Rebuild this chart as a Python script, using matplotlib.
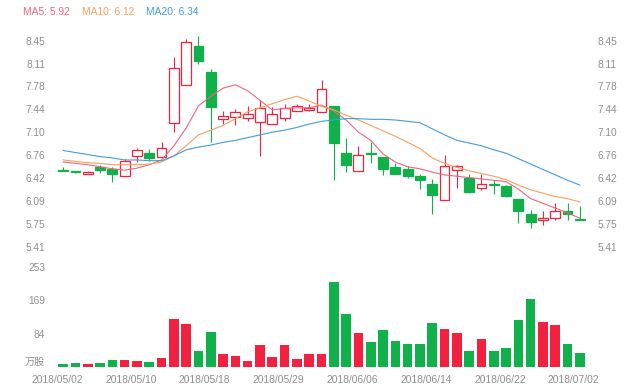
import numpy as np
import matplotlib
matplotlib.use("Agg")
import matplotlib.pyplot as plt
from matplotlib.patches import Rectangle

plt.rcParams['font.family'] = ['Liberation Sans', 'Noto Sans CJK SC', 'DejaVu Sans']

# daily candles, 2018/05/02 .. 2018/07/02
opens = [6.54, 6.52, 6.49, 6.58, 6.56, 6.46, 6.75, 6.80, 6.74, 7.24, 7.80, 8.37, 7.99, 7.29,
         7.32, 7.31, 7.25, 7.22, 7.31, 7.42, 7.43, 7.40, 7.48, 6.80, 6.52, 6.79, 6.73, 6.58,
         6.56, 6.45, 6.34, 6.10, 6.54, 6.42, 6.27, 6.33, 6.31, 6.12, 5.89, 5.80, 5.84, 5.94, 5.82]
highs = [6.59, 6.53, 6.52, 6.62, 6.58, 6.70, 6.87, 6.85, 6.96, 8.21, 8.47, 8.52, 8.03, 7.42,
         7.44, 7.48, 7.58, 7.47, 7.52, 7.52, 7.51, 7.87, 7.48, 7.02, 6.89, 6.96, 6.74, 6.64,
         6.60, 6.48, 6.41, 6.76, 6.62, 6.49, 6.48, 6.39, 6.32, 6.12, 5.95, 5.94, 6.06, 6.05, 6.01]
lows = [6.53, 6.50, 6.48, 6.50, 6.37, 6.46, 6.66, 6.67, 6.74, 7.11, 7.79, 8.10, 6.96, 7.22,
        7.21, 7.27, 6.75, 7.22, 7.27, 7.42, 7.42, 7.40, 6.39, 6.51, 6.52, 6.64, 6.47, 6.48,
        6.42, 6.26, 5.89, 6.10, 6.27, 6.20, 6.24, 6.19, 6.15, 5.76, 5.68, 5.73, 5.80, 5.80, 5.81]
closes = [6.53, 6.51, 6.51, 6.54, 6.49, 6.68, 6.83, 6.72, 6.87, 8.04, 8.43, 8.15, 7.47, 7.34,
          7.40, 7.37, 7.45, 7.37, 7.46, 7.48, 7.46, 7.73, 6.94, 6.61, 6.76, 6.78, 6.56, 6.49,
          6.45, 6.39, 6.17, 6.60, 6.60, 6.22, 6.34, 6.32, 6.16, 5.94, 5.78, 5.84, 5.93, 5.90, 5.81]
volumes = [8, 10, 8, 11, 18, 18, 15, 12, 22, 121, 109, 41, 88, 34, 29, 14, 55, 26, 56, 20,
           33, 33, 214, 134, 85, 62, 94, 66, 58, 59, 111, 96, 87, 40, 71, 40, 49, 118, 172,
           115, 107, 57, 35]

ma5 = [6.66, 6.64, 6.62, 6.59, 6.56, 6.54, 6.57, 6.62, 6.69, 6.90, 7.16, 7.49, 7.63, 7.75,
       7.80, 7.71, 7.57, 7.43, 7.45, 7.46, 7.46, 7.50, 7.41, 7.28, 7.10, 6.98, 6.78, 6.66,
       6.59, 6.56, 6.51, 6.47, 6.45, 6.43, 6.41, 6.39, 6.37, 6.26, 6.12, 6.05, 5.98, 5.91, 5.83]
ma10 = [6.69, 6.67, 6.65, 6.64, 6.62, 6.62, 6.62, 6.63, 6.66, 6.75, 6.90, 7.06, 7.13, 7.20,
        7.30, 7.40, 7.46, 7.52, 7.58, 7.63, 7.56, 7.48, 7.43, 7.35, 7.28, 7.20, 7.12, 7.04,
        6.95, 6.86, 6.72, 6.64, 6.58, 6.53, 6.49, 6.45, 6.40, 6.32, 6.25, 6.20, 6.15, 6.12, 6.07]
ma20 = [6.83, 6.80, 6.77, 6.74, 6.72, 6.69, 6.69, 6.68, 6.68, 6.75, 6.84, 6.88, 6.91, 6.95,
        6.98, 7.02, 7.06, 7.10, 7.13, 7.17, 7.22, 7.26, 7.28, 7.30, 7.30, 7.29, 7.29, 7.28,
        7.26, 7.24, 7.15, 7.06, 6.98, 6.94, 6.90, 6.84, 6.79, 6.71, 6.63, 6.55, 6.47, 6.39, 6.32]

date_labels = ['2018/05/02', '2018/05/10', '2018/05/18', '2018/05/29',
               '2018/06/06', '2018/06/14', '2018/06/22', '2018/07/02']
date_idx = [0, 6, 12, 18, 24, 30, 36, 42]
price_ticks = ['5.41', '5.75', '6.09', '6.42', '6.76', '7.10', '7.44', '7.78', '8.11', '8.45']
vol_ticks = [0, 84, 169, 253]
vol_labels = ['万股', '84', '169', '253']

RED = '#f2213f'
GREEN = '#10b14b'
C_MA5 = '#ee6580'
C_MA10 = '#f4a05c'
C_MA20 = '#3e9edb'
GREY = '#8e8e8e'

W, H = 640, 386
fig = plt.figure(figsize=(6.4, 3.86), dpi=100)

def box(x0, x1, ytop, ybot):
    return [x0 / W, 1 - ybot / H, (x1 - x0) / W, (ybot - ytop) / H]

n = len(closes)
x = np.arange(n)

ax = fig.add_axes(box(57, 586, 30, 252))
ax.set_xlim(-0.5, n - 0.5)
ax.set_ylim(5.332, 8.608)

bw = 0.8
for i in range(n):
    o, h, l, c = opens[i], highs[i], lows[i], closes[i]
    up = c >= o
    col = RED if up else GREEN
    ax.plot([i, i], [l, h], color=col, lw=0.8, zorder=2, solid_capstyle='butt')
    bot = min(o, c)
    ht = max(abs(c - o), 0.004)
    ax.add_patch(Rectangle((i - bw / 2, bot), bw, ht, facecolor='white' if up else col,
                           edgecolor=col, lw=0.9, zorder=3))

ax.plot(x, ma5, color=C_MA5, lw=0.8, zorder=4)
ax.plot(x, ma10, color=C_MA10, lw=0.8, zorder=4)
ax.plot(x, ma20, color=C_MA20, lw=0.8, zorder=4)

pt = np.linspace(5.41, 8.45, len(price_ticks))
ax.set_yticks(pt)
ax.set_yticklabels(price_ticks)
ax.tick_params(axis='y', which='both', left=False, right=False, labelleft=True,
               labelright=True, labelsize=7.3, labelcolor=GREY, pad=5)
ax.set_xticks([])
for s in ax.spines.values():
    s.set_visible(False)

# volume panel
axv = fig.add_axes(box(57, 586, 262, 367))
axv.set_xlim(-0.5, n - 0.5)
axv.set_ylim(0, 265.6)
vcols = [RED if closes[i] >= opens[i] else GREEN for i in range(n)]
axv.bar(x, volumes, width=0.78, color=vcols, zorder=2)
axv.set_yticks(vol_ticks)
axv.set_yticklabels(vol_labels)
axv.tick_params(axis='y', left=False, labelsize=7.3, labelcolor=GREY, pad=5)
axv.set_xticks([i - 0.5 for i in date_idx])
axv.set_xticklabels(date_labels)
axv.tick_params(axis='x', bottom=False, labelsize=7.4, labelcolor=GREY, pad=2)
for s in axv.spines.values():
    s.set_visible(False)
for lbl in axv.get_yticklabels():
    if lbl.get_text() == '万股':
        lbl.set_va('bottom')

fig.text(23 / W, 1 - 12 / H, 'MA5: 5.92', color=C_MA5, fontsize=7.4, va='center')
fig.text(82 / W, 1 - 12 / H, 'MA10: 6.12', color=C_MA10, fontsize=7.4, va='center')
fig.text(146 / W, 1 - 12 / H, 'MA20: 6.34', color=C_MA20, fontsize=7.4, va='center')

fig.savefig('out.png', dpi=100)
